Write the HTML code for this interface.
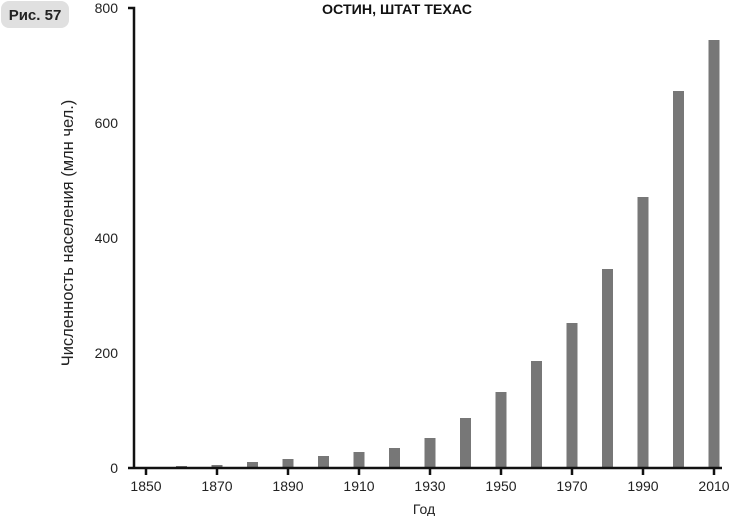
<!DOCTYPE html>
<html><head><meta charset="utf-8"><style>
body{margin:0;background:#fff;}
svg{display:block;font-family:"Liberation Sans",sans-serif;}
</style></head><body>
<svg width="730" height="516" viewBox="0 0 730 516">
<rect x="1" y="1" width="68" height="27" rx="8" fill="#e0e0e0"/>
<text x="35" y="20" font-size="15" font-weight="bold" text-anchor="middle" fill="#222">Рис. 57</text>
<text x="397" y="14" font-size="14" font-weight="bold" text-anchor="middle" fill="#111" textLength="150" lengthAdjust="spacingAndGlyphs">ОСТИН, ШТАТ ТЕХАС</text>
<g fill="#777">
<rect x="176" y="466" width="11" height="2"/>
<rect x="211.5" y="465" width="11" height="3"/>
<rect x="247" y="462" width="11" height="6"/>
<rect x="282.5" y="459" width="11" height="9"/>
<rect x="318" y="456" width="11" height="12"/>
<rect x="353.5" y="452" width="11" height="16"/>
<rect x="389" y="448" width="11" height="20"/>
<rect x="424.5" y="438" width="11" height="30"/>
<rect x="460" y="418" width="11" height="50"/>
<rect x="495.5" y="392" width="11" height="76"/>
<rect x="531" y="361" width="11" height="107"/>
<rect x="566.5" y="323" width="11" height="145"/>
<rect x="602" y="269" width="11" height="199"/>
<rect x="637.5" y="197" width="11" height="271"/>
<rect x="673" y="91" width="11" height="377"/>
<rect x="708.5" y="40" width="11" height="428"/>
</g>
<g stroke="#111" stroke-width="2.5" fill="none">
<path d="M128 8 H134 V468"/>
<path d="M128 468 H722"/>
<path d="M146 468v7M217 468v7M288 468v7M359 468v7M430 468v7M501 468v7M572 468v7M643 468v7M714 468v7"/>
</g>
<g font-size="14" fill="#222" text-anchor="end">
<text x="118" y="13">800</text>
<text x="118" y="128">600</text>
<text x="118" y="243">400</text>
<text x="118" y="358">200</text>
<text x="118" y="473">0</text>
</g>
<g font-size="14" fill="#222" text-anchor="middle">
<text x="146" y="491">1850</text><text x="217" y="491">1870</text><text x="288" y="491">1890</text>
<text x="359" y="491">1910</text><text x="430" y="491">1930</text><text x="501" y="491">1950</text>
<text x="572" y="491">1970</text><text x="643" y="491">1990</text><text x="714" y="491">2010</text>
<text x="424" y="514">Год</text>
</g>
<text transform="translate(73,233) rotate(-90)" font-size="16.5" fill="#222" text-anchor="middle">Численность населения (млн чел.)</text>
</svg>
</body></html>
